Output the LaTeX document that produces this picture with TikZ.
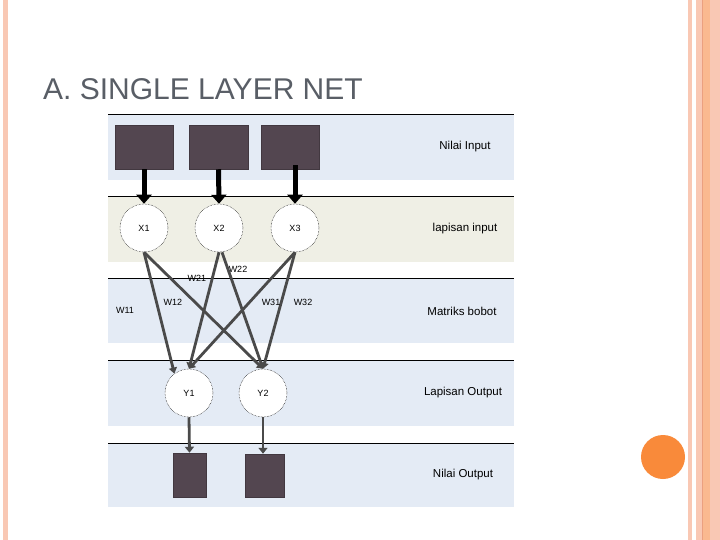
\documentclass[tikz,border=0pt]{standalone}
\usepackage{fontspec}
\setmainfont{Liberation Sans}
\usetikzlibrary{arrows.meta}
\definecolor{peach}{HTML}{F9C8B4}
\definecolor{peachdark}{HTML}{EBA080}
\definecolor{orangedot}{HTML}{F98A3A}
\definecolor{titlegray}{HTML}{595E66}
\definecolor{bandblue}{HTML}{E4EBF5}
\definecolor{bandbeige}{HTML}{EFEFE5}
\definecolor{boxfill}{HTML}{534650}
\definecolor{linkgray}{HTML}{4A4A4A}
\tikzset{
  band/.style={fill=#1, draw=none},
  bandline/.style={draw=black, line width=0.9pt},
  inbox/.style={fill=boxfill, draw=boxfill!80!black, line width=0.5pt},
  neuron/.style={circle, draw=black, densely dotted, line width=0.5pt, fill=white, minimum size=48pt, inner sep=0pt, font=\fontsize{9}{10}\selectfont},
  feed/.style={draw=black, line width=5pt, -{Triangle[width=15pt,length=9pt]}},
  link/.style={draw=linkgray, line width=2.8pt, -{Triangle[width=8pt,length=6pt]}},
  outlink/.style={draw=linkgray, line width=2.8pt, -{Triangle[width=9pt,length=6pt]}},
  wlabel/.style={font=\fontsize{9}{10}\selectfont, inner sep=0pt},
  blabel/.style={font=\fontsize{11.5}{13}\selectfont, inner sep=0pt}
}
\begin{document}
\begin{tikzpicture}[x=1pt,y=-1pt]
\useasboundingbox (0,0) rectangle (720,540);
\fill[white] (0,0) rectangle (720,540);
% slide decoration
\fill[peach] (3,0) rectangle (8,540);
\fill[peach] (688,0) rectangle (692,540);
\fill[peach] (696,0) rectangle (720,540);
\fill[peach!80!orange] (703,0) rectangle (710,540);
\draw[peachdark, line width=0.8pt] (702.5,0) -- (702.5,540);
\fill[orangedot] (663,457) circle (22);
% title
\node[anchor=base west, inner sep=0pt, text=titlegray, font=\fontsize{30}{33}\selectfont] (title) at (43,100) {A. SINGLE LAYER NET};
% bands
\fill[band=bandblue] (108,114) rectangle (514,180);
\fill[band=bandbeige] (108,196) rectangle (514,262);
\fill[band=bandblue] (108,278) rectangle (514,343);
\fill[band=bandblue] (108,360) rectangle (514,426);
\fill[band=bandblue] (108,443) rectangle (514,507);
\foreach \y in {114,196,278,360,443} \draw[bandline] (108,\y) -- (514,\y);
% band labels
\node[blabel] (l1) at (465,147) {Nilai Input};
\node[blabel] (l2) at (465,229) {lapisan input};
\node[blabel] (l3) at (462,311) {Matriks bobot};
\node[blabel] (l4) at (463,393) {Lapisan Output};
\node[blabel] (l5) at (463,475) {Nilai Output};
% input boxes
\node[inbox, minimum width=58pt, minimum height=44pt, inner sep=0pt] (b1) at (144,147) {};
\node[inbox, minimum width=59pt, minimum height=44pt, inner sep=0pt] (b2) at (218.5,147) {};
\node[inbox, minimum width=58pt, minimum height=44pt, inner sep=0pt] (b3) at (290,147) {};
% neurons
\node[neuron] (x1) at (144,228) {X1};
\node[neuron] (x2) at (219,228) {X2};
\node[neuron] (x3) at (295,228) {X3};
\node[neuron] (y1) at (189,393) {Y1};
\node[neuron] (y2) at (263,393) {Y2};
% output boxes
\node[inbox, minimum width=33pt, minimum height=44pt, inner sep=0pt] (o1) at (189.5,475) {};
\node[inbox, minimum width=39pt, minimum height=43pt, inner sep=0pt] (o2) at (264.5,475.5) {};
% feeding arrows
\draw[feed] (b1.south) -- (x1.north);
\draw[feed] (b2.south) -- (x2.north);
\draw[feed] ([xshift=5pt,yshift=4pt]b3.south) -- (x3.north);
% weights
\draw[link] (x1.south) -- (y1.127);
\draw[link] (x1.south) -- (y2.north);
\draw[link] (x2.south) -- (y1.north);
\draw[link] ([xshift=3pt]x2.south) -- (y2.north);
\draw[link] (x3.south) -- (y1.north);
\draw[link] (x3.south) -- (y2.north);
% weight labels
\node[wlabel] (w11) at (125,310) {W11};
\node[wlabel] (w12) at (173,302) {W12};
\node[wlabel] (w21) at (197,278) {W21};
\node[wlabel] (w22) at (238,269) {W22};
\node[wlabel] (w31) at (271,302) {W31};
\node[wlabel] (w32) at (303,302) {W32};
% output arrows
\draw[outlink] (y1.south) -- (o1.north);
\draw[outlink] (y2.south) -- (o2.north -| y2.south);
\end{tikzpicture}
\end{document}
